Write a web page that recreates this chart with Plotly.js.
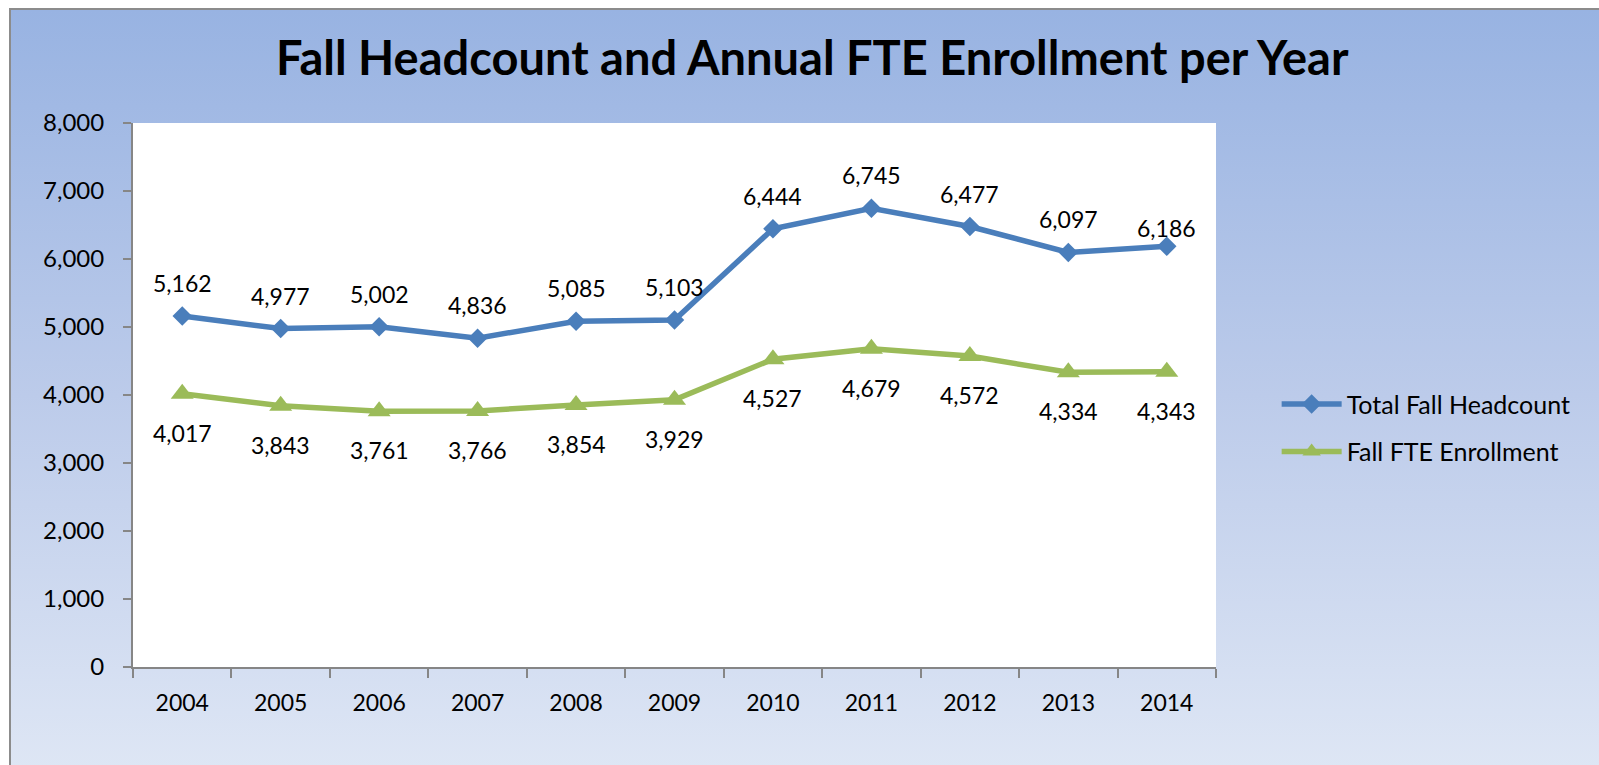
<!DOCTYPE html>
<html>
<head>
<meta charset="utf-8">
<script src="https://cdn.plot.ly/plotly-3.0.1.min.js"></script>
<style>
  html, body { margin: 0; padding: 0; background: #ffffff; width: 1599px; height: 765px; overflow: hidden; }
  #frame { position: absolute; left: 9px; top: 8px; width: 1600px; height: 770px;
           border-left: 2px solid #8c8c8c; border-top: 2px solid #8c8c8c;
           background: linear-gradient(to bottom, #98b3e2 0%, #bccbea 50%, #dfe7f5 100%); }
  #chart { position: absolute; left: 0; top: 0; width: 1599px; height: 765px; }
</style>
</head>
<body>
<div id="frame"></div>
<div id="chart"></div>
<script>
const years = ['2004','2005','2006','2007','2008','2009','2010','2011','2012','2013','2014'];
const headcount = [5162, 4977, 5002, 4836, 5085, 5103, 6444, 6745, 6477, 6097, 6186];
const fte = [4017, 3843, 3761, 3766, 3854, 3929, 4527, 4679, 4572, 4334, 4343];
const seriesNames = ['Total Fall Headcount', 'Fall FTE Enrollment'];
const yTicks = [0, 1000, 2000, 3000, 4000, 5000, 6000, 7000, 8000];
const titleText = 'Fall Headcount and Annual FTE Enrollment per Year';

const FONT = 'Lato, "Open Sans", sans-serif';
const blue = '#4a7ebb', green = '#9bbb59';

const traces = [
  { x: years, y: headcount, name: seriesNames[0], type: 'scatter', mode: 'lines+markers',
    line: { color: blue, width: 5.5 }, marker: { symbol: 'diamond', size: 15, color: blue },
    legendgroup: 'a', hoverinfo: 'y' },
  { x: years, y: fte, name: seriesNames[1], type: 'scatter', mode: 'lines+markers',
    line: { color: green, width: 5.5 }, marker: { symbol: 'triangle-up', size: 20, color: green },
    legendgroup: 'b', hoverinfo: 'y' }
];

const fmt = v => v.toLocaleString('en-US');
const annotations = [];
years.forEach((yr, i) => {
  const last = i === years.length - 1;
  annotations.push({ x: i, y: headcount[i], xref: 'x', yref: 'y', text: fmt(headcount[i]),
    showarrow: false, yshift: last ? 18 : 33, font: { family: FONT, size: 23, color: '#000' } });
  annotations.push({ x: i, y: fte[i], xref: 'x', yref: 'y', text: fmt(fte[i]),
    showarrow: false, yshift: -39, font: { family: FONT, size: 23, color: '#000' } });
});

const layout = {
  width: 1599, height: 765,
  paper_bgcolor: 'rgba(0,0,0,0)', plot_bgcolor: '#ffffff',
  margin: { l: 133, r: 383, t: 123, b: 98, autoexpand: false },
  title: { text: '<b>' + titleText + '</b>', font: { family: FONT, size: 47, color: '#000' },
           xref: 'container', x: 0.508, xanchor: 'center', yref: 'container', y: 0.924, yanchor: 'middle' },
  font: { family: FONT, size: 23, color: '#000' },
  xaxis: { type: 'category', range: [-0.5, 10.5], tickson: 'boundaries', ticks: 'outside', ticklen: 9,
           tickwidth: 2, tickcolor: '#868686', showline: true, linecolor: '#868686', linewidth: 2,
           showgrid: false, zeroline: false, ticklabelstandoff: 14, tickfont: { family: FONT, size: 23 } },
  yaxis: { range: [0, 8000], tickvals: yTicks, tickformat: ',d', ticks: 'outside', ticklen: 8,
           tickwidth: 2, tickcolor: '#868686', showline: true, linecolor: '#868686', linewidth: 2,
           showgrid: false, zeroline: false, ticklabelstandoff: 14, tickfont: { family: FONT, size: 24 } },
  legend: { x: 1.056, y: 0.44, xanchor: 'left', yanchor: 'middle', bgcolor: 'rgba(0,0,0,0)',
            font: { family: FONT, size: 25, color: '#000' }, itemwidth: 60, tracegroupgap: 12 },
  annotations: annotations,
  showlegend: true
};

Plotly.newPlot('chart', traces, layout, { displayModeBar: false, staticPlot: true });
</script>
</body>
</html>
